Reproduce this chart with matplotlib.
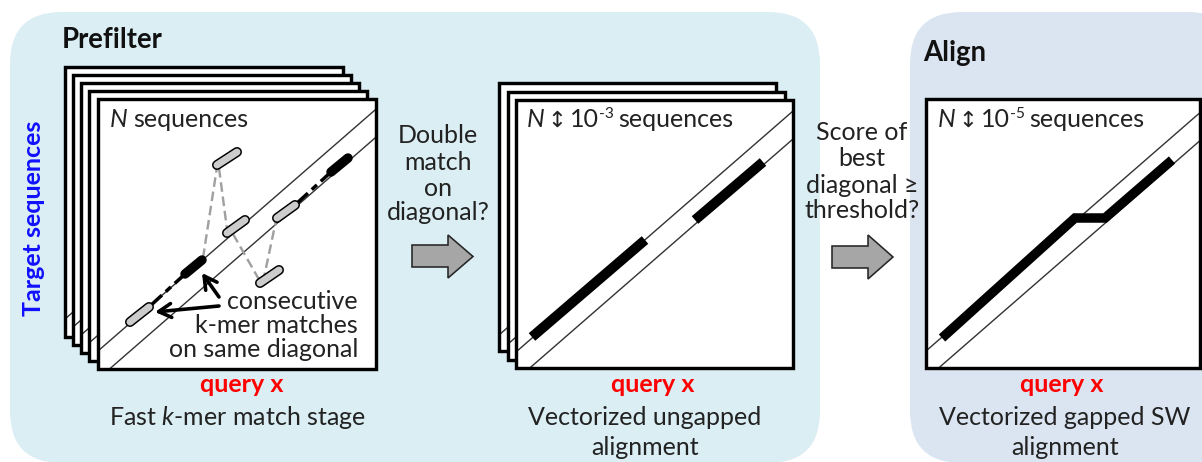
import matplotlib.pyplot as plt
from matplotlib.patches import FancyBboxPatch, Rectangle, Polygon, FancyArrowPatch

plt.rcParams['font.family'] = ['Lato', 'DejaVu Sans']
plt.rcParams['mathtext.fontset'] = 'custom'
plt.rcParams['mathtext.rm'] = 'Lato'
plt.rcParams['mathtext.it'] = 'Lato:italic'

W, H = 1202, 462
PT = 0.72  # points per pixel at dpi 100
TXT = '#222222'
FS = 25 * PT  # body text size

# background panels (x0, y0, x1, y1)
panel_boxes = [(10, 12, 820, 463), (910, 12, 1240, 463)]
panel_colors = ['#daeef3', '#dbe5f1']
panel_titles = ['Prefilter', 'Align']
title_xy = [(62, 48), (923, 61)]

# stacked frames: top-left corners (back to front) and frame size
stacks = [
    [(65, 67), (73, 75), (81, 83), (89, 91), (98, 99)],
    [(499, 83), (508, 92), (516, 100)],
    [(926, 99)],
]
frame_sizes = [(278, 270), (277, 268), (274, 269)]
# two diagonals, relative to the frame corner: y = b + slope * x
diag_slope = -0.87
diag_b = [252, 280]

# stage 1: k-mer matches
gray_caps = [((130, 322), (149, 307)), ((227, 233), (245, 220)),
             ((217, 165), (237, 152)), ((260, 283), (279, 270)),
             ((277, 218), (295, 205))]
black_caps = [((185, 274), (202, 260)), ((331, 172), (348, 158))]
dashdot_links = [((149, 307), (185, 274)), ((295, 205), (331, 172))]
gray_links = [((203, 258), (217, 167)), ((219, 168), (227, 229)),
              ((233, 234), (261, 283)), ((263, 282), (277, 216))]
pointer_arrows = [((219, 297), (202, 273)), ((219, 306), (155, 312))]
note_lines = ['consecutive', 'k-mer matches', 'on same diagonal']
note_base = [309, 333, 357]
note_right = 358

# stage 2 / stage 3 alignments
ungapped = [[(532, 337), (645, 240)], [(695, 220), (763, 162)]]
gapped = [(942, 338), (1075, 218), (1105, 218), (1172, 160)]

# block arrows: x0, x_head, x_tip, body y0, body y1, head y0, head y1
block_arrows = [(412, 448, 473, 245, 267, 235, 278),
                (832, 868, 893, 246, 268, 235, 279)]
question_lines = [['Double', 'match', 'on', 'diagonal?'],
                  ['Score of', 'best', 'diagonal ≥', 'threshold?']]
question_x = [438, 862]
question_base = [[143, 170, 196, 220], [140, 166, 193, 218]]

# labels per stage
seq_exp = [None, '-3', '-5']
seq_xy = [(110, 127), (527, 127), (938, 127)]
query_x = [242, 653, 1062]
query_base = 392
captions = [['Fast $\\mathit{k}$-mer match stage'],
            ['Vectorized ungapped', 'alignment'],
            ['Vectorized gapped SW', 'alignment']]
caption_x = [237, 645, 1065]
caption_base = [425, 455]

fig = plt.figure(figsize=(W / 100, H / 100), dpi=100)
ax = fig.add_axes([0, 0, 1, 1])
ax.set_xlim(0, W)
ax.set_ylim(H, 0)
ax.axis('off')

for (x0, y0, x1, y1), c in zip(panel_boxes, panel_colors):
    ax.add_patch(FancyBboxPatch((x0, y0), x1 - x0, y1 - y0,
                                boxstyle='round,pad=0,rounding_size=52',
                                fc=c, ec='none', zorder=0))
for t, (x, y) in zip(panel_titles, title_xy):
    ax.text(x, y, t, fontsize=27.5 * PT, fontweight='bold', color='#111111',
            va='baseline', ha='left')

z = 1
for corners, (fw, fh) in zip(stacks, frame_sizes):
    for (fx, fy) in corners:
        back = Rectangle((fx, fy), fw, fh, fc='white', ec='none', zorder=z)
        ax.add_patch(back)
        for b in diag_b:
            xs = [fx - 10, fx + fw + 10]
            ys = [fy + b + diag_slope * (-10), fy + b + diag_slope * (fw + 10)]
            ln, = ax.plot(xs, ys, color='#333333', lw=1.4 * PT, zorder=z + 0.01)
            ln.set_clip_path(back)
        ax.add_patch(Rectangle((fx, fy), fw, fh, fc='none', ec='black',
                               lw=3.4 * PT, zorder=z + 0.02))
        z += 0.1

# k-mer matches in stage 1
for (p, q) in gray_links:
    ax.plot([p[0], q[0]], [p[1], q[1]], color='#a0a0a0', lw=2.4 * PT,
            dashes=(4, 2), zorder=5)
for (p, q) in dashdot_links:
    ax.plot([p[0], q[0]], [p[1], q[1]], color='black', lw=3.5 * PT,
            dashes=(5, 1.5, 2, 1.5), zorder=5.1)
for (p, q) in gray_caps:
    ax.plot([p[0], q[0]], [p[1], q[1]], color='black', lw=10 * PT,
            solid_capstyle='round', zorder=5.2)
    ax.plot([p[0], q[0]], [p[1], q[1]], color='#cccccc', lw=7 * PT,
            solid_capstyle='round', zorder=5.3)
for (p, q) in black_caps:
    ax.plot([p[0], q[0]], [p[1], q[1]], color='black', lw=9.5 * PT,
            solid_capstyle='round', zorder=5.3)
for (p, q) in pointer_arrows:
    ax.add_patch(FancyArrowPatch(p, q, arrowstyle='->,head_length=9,head_width=5',
                                 color='black', lw=3.6 * PT, zorder=5.5,
                                 shrinkA=0, shrinkB=0))
for s, yb in zip(note_lines, note_base):
    ax.text(note_right, yb, s, fontsize=FS, color=TXT, ha='right', va='baseline',
            zorder=6)

# stage 2 and 3 alignments
for seg in ungapped:
    ax.plot([p[0] for p in seg], [p[1] for p in seg], color='black',
            lw=10 * PT, solid_capstyle='butt', zorder=5)
ax.plot([p[0] for p in gapped], [p[1] for p in gapped], color='black',
        lw=9.5 * PT, solid_capstyle='butt', solid_joinstyle='miter', zorder=5)

# block arrows and questions
for (x0, xh, xt, by0, by1, hy0, hy1) in block_arrows:
    ym = (hy0 + hy1) / 2
    pts = [(x0, by0), (xh, by0), (xh, hy0), (xt, ym), (xh, hy1), (xh, by1), (x0, by1)]
    ax.add_patch(Polygon(pts, closed=True, fc='#a6a6a6', ec='#262626',
                         lw=1.6 * PT, joinstyle='miter', zorder=4))
for lines, x, bases in zip(question_lines, question_x, question_base):
    for s, yb in zip(lines, bases):
        ax.text(x, yb, s, fontsize=FS, color=TXT, ha='center', va='baseline')

# "N <-> 10^-k sequences" labels
for exp, (x, y) in zip(seq_exp, seq_xy):
    t = ax.text(x, y, 'N', fontsize=FS, style='italic', color=TXT,
                va='baseline', zorder=6)
    if exp is not None:
        t = ax.annotate('↕', xy=(1, y), xycoords=(t, 'data'), xytext=(3, 0),
                        textcoords='offset pixels', fontsize=FS * 0.9,
                        family='DejaVu Sans', color=TXT, va='baseline', zorder=6)
        t = ax.annotate('10', xy=(1, y), xycoords=(t, 'data'), xytext=(3, 0),
                        textcoords='offset pixels', fontsize=FS, color=TXT,
                        va='baseline', zorder=6)
        t = ax.annotate(exp, xy=(1, y), xycoords=(t, 'data'), xytext=(0, 9),
                        textcoords='offset pixels', fontsize=FS * 0.62,
                        color=TXT, va='baseline', zorder=6)
    ax.annotate('sequences', xy=(1, y), xycoords=(t, 'data'), xytext=(5, 0),
                textcoords='offset pixels', fontsize=FS, color=TXT,
                va='baseline', zorder=6)

for x in query_x:
    ax.text(x, query_base, 'query x', fontsize=FS, fontweight='bold',
            color='#ff0000', ha='center', va='baseline')
for lines, x in zip(captions, caption_x):
    for s, yb in zip(lines, caption_base):
        ax.text(x, yb, s, fontsize=FS, color=TXT, ha='center', va='baseline')

ax.text(34, 218, 'Target sequences', fontsize=FS, fontweight='bold',
        color='#1010ff', rotation=90, ha='center', va='center')

fig.savefig('out.png', dpi=100)
